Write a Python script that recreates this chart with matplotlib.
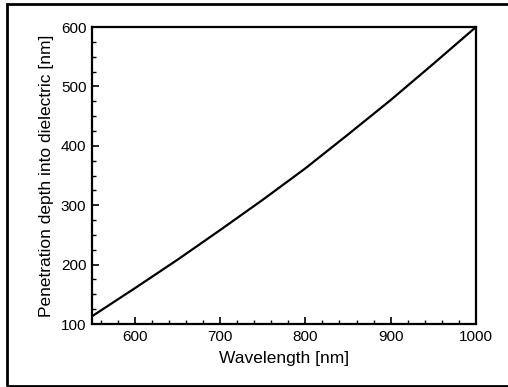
import matplotlib.pyplot as plt
from matplotlib.ticker import MultipleLocator
from matplotlib.patches import Rectangle

wavelength = [550, 600, 650, 700, 750, 800, 850, 900, 950, 1000]
depth = [113, 160, 208, 258, 309, 362, 419, 477, 538, 600]

plt.rcParams['font.family'] = ['Liberation Sans', 'DejaVu Sans']

fig = plt.figure(figsize=(5.08, 3.87), dpi=100)
ax = fig.add_axes([92 / 508, 1 - 324 / 387, 384 / 508, 297 / 387])

ax.plot(wavelength, depth, color='black', lw=1.6)

ax.set_xlim(550, 1000)
ax.set_ylim(100, 600)
ax.xaxis.set_major_locator(MultipleLocator(100))
ax.xaxis.set_minor_locator(MultipleLocator(20))
ax.yaxis.set_major_locator(MultipleLocator(100))
ax.yaxis.set_minor_locator(MultipleLocator(25))
ax.tick_params(which='both', direction='in', top=False, right=False, labelsize=11)
ax.tick_params(which='major', length=5, width=1.2, pad=4)
ax.tick_params(which='minor', length=3, width=1)
for s in ax.spines.values():
    s.set_linewidth(1.6)

ax.set_xlabel('Wavelength [nm]', fontsize=12.5, labelpad=5)
ax.set_ylabel('Penetration depth into dielectric [nm]', fontsize=12.5, labelpad=5)

# outer frame, right side runs off the picture like in the scan
fig.patches.append(Rectangle((7 / 508, 1 / 387), 510 / 508, 382 / 387,
                             transform=fig.transFigure, fill=False,
                             edgecolor='black', lw=2, clip_on=False))

fig.savefig('out.png', dpi=100)
